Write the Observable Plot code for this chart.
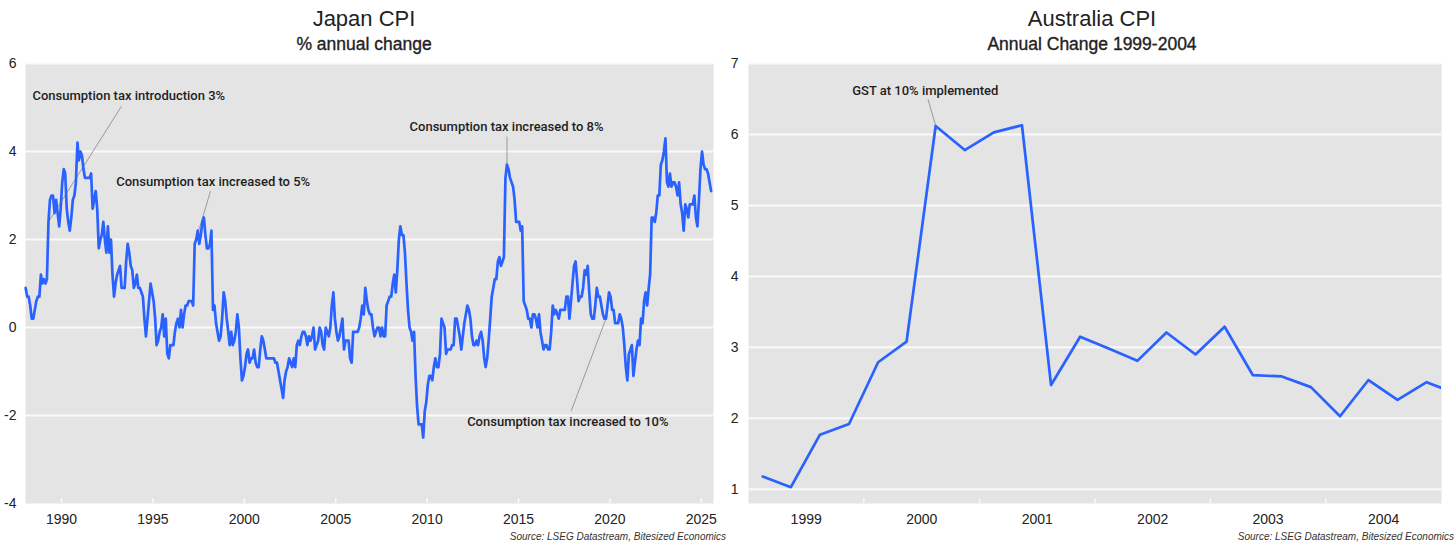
<!DOCTYPE html>
<html>
<head>
<meta charset="utf-8">
<script src="https://cdn.jsdelivr.net/npm/d3@7"></script>
<script src="https://cdn.jsdelivr.net/npm/@observablehq/plot@0.6"></script>
<style>
  html, body { margin: 0; padding: 0; background: #fff; }
  #wrap { position: relative; width: 1456px; height: 546px; overflow: hidden; font-family: "Liberation Sans", Arial, sans-serif; color: #222; }
  .title { position: absolute; width: 728px; text-align: center; font-size: 22px; line-height: 1; top: 8px; }
  .sub { position: absolute; width: 728px; text-align: center; font-size: 17.5px; line-height: 1; top: 36px; -webkit-text-stroke: 0.35px #222; }
  .src { position: absolute; font-size: 10px; line-height: 1; font-style: italic; color: #333; top: 532px; white-space: nowrap; }
  .chart { position: absolute; top: 55px; }
</style>
</head>
<body>
<div id="wrap">
  <div class="title" style="left:0">Japan CPI</div>
  <div class="sub" style="left:0">% annual change</div>
  <div class="title" style="left:728px">Australia CPI</div>
  <div class="sub" style="left:728px">Annual Change 1999-2004</div>
  <div id="left" class="chart" style="left:0"></div>
  <div id="right" class="chart" style="left:728px"></div>
  <div class="src" style="right:730px">Source: LSEG Datastream, Bitesized Economics</div>
  <div class="src" style="right:2px">Source: LSEG Datastream, Bitesized Economics</div>
</div>
<script>
// ---------------- Japan CPI, % annual change, monthly from Jan 1988 ----------------
const japanStartYear = 1988;
const japanCpi = [
  0.9, 0.7, 0.7, 0.5, 0.2, 0.2, 0.4, 0.6, 0.7, 0.7, 1.2, 1.0,      // 1988
  1.1, 1.0, 1.1, 2.4, 2.9, 3.0, 3.0, 2.6, 2.9, 2.6, 2.3, 2.7,      // 1989
  3.3, 3.6, 3.5, 2.7, 2.4, 2.2, 2.5, 2.9, 3.0, 3.3, 4.2, 3.8,      // 1990
  4.0, 3.9, 3.6, 3.4, 3.4, 3.4, 3.4, 3.5, 2.7, 2.9, 3.1, 2.7,      // 1991
  1.8, 2.0, 2.1, 2.4, 2.0, 1.7, 2.3, 1.7, 2.0, 1.2, 0.7, 1.0,      // 1992
  1.2, 1.3, 1.4, 0.9, 0.9, 0.9, 1.5, 1.9, 1.7, 1.4, 1.3, 0.9,      // 1993
  1.0, 1.2, 0.9, 0.9, 0.8, 0.7, 0.2, -0.2, 0.2, 0.6, 1.0, 0.8,     // 1994
  0.6, 0.2, -0.4, -0.3, -0.1, 0.0, 0.3, -0.2, 0.2, -0.6, -0.7, -0.4, // 1995
  -0.4, -0.4, -0.1, 0.1, 0.2, 0.0, 0.4, 0.0, 0.3, 0.5, 0.5, 0.6,   // 1996
  0.6, 0.6, 0.5, 1.9, 2.0, 2.2, 1.9, 2.1, 2.4, 2.5, 2.1, 1.8,      // 1997
  1.8, 1.9, 2.2, 0.4, 0.5, 0.1, -0.1, -0.3, -0.2, 0.2, 0.8, 0.6,   // 1998
  0.2, -0.1, -0.4, -0.1, -0.4, -0.3, -0.1, 0.3, 0.0, -0.7, -1.2, -1.1, // 1999
  -0.9, -0.6, -0.5, -0.8, -0.7, -0.7, -0.5, -0.8, -0.9, -0.9, -0.5, -0.2, // 2000
  -0.3, -0.5, -0.7, -0.7, -0.7, -0.7, -0.7, -0.7, -0.8, -0.8, -1.0, -1.2, // 2001
  -1.4, -1.6, -1.2, -1.0, -0.9, -0.7, -0.8, -0.9, -0.7, -0.9, -0.4, -0.3, // 2002
  -0.4, -0.2, -0.1, -0.1, -0.2, -0.4, -0.2, -0.3, -0.2, 0.0, -0.5, -0.4,  // 2003
  -0.3, 0.0, -0.1, -0.4, -0.5, 0.0, -0.1, -0.2, 0.0, 0.5, 0.8, 0.2,   // 2004
  -0.1, -0.3, -0.2, 0.0, 0.2, -0.5, -0.3, -0.3, -0.3, -0.7, -0.8, -0.1, // 2005
  -0.1, -0.1, -0.1, 0.0, 0.2, 0.5, 0.3, 0.9, 0.6, 0.4, 0.3, 0.3,   // 2006
  0.0, -0.2, -0.1, 0.0, 0.0, -0.2, 0.0, -0.2, -0.2, 0.5, 0.6, 0.7, // 2007
  0.7, 1.0, 1.2, 0.8, 1.3, 2.0, 2.3, 2.1, 2.1, 1.7, 1.0, 0.4,      // 2008
  0.0, -0.1, -0.3, -0.1, -1.1, -1.8, -2.2, -2.2, -2.2, -2.5, -1.9, -1.7, // 2009
  -1.3, -1.1, -1.1, -1.2, -0.9, -0.7, -0.9, -0.9, -0.6, 0.2, 0.1, 0.0,   // 2010
  -0.6, -0.5, -0.5, -0.5, -0.4, -0.4, 0.2, 0.2, 0.0, -0.2, -0.5, -0.2,  // 2011
  0.1, 0.3, 0.5, 0.4, 0.2, -0.2, -0.4, -0.4, -0.3, -0.4, -0.2, -0.1,   // 2012
  -0.3, -0.7, -0.9, -0.7, -0.3, 0.2, 0.7, 0.9, 1.1, 1.1, 1.5, 1.6,     // 2013
  1.4, 1.5, 1.6, 3.4, 3.7, 3.6, 3.4, 3.3, 3.2, 2.9, 2.4, 2.4,      // 2014
  2.4, 2.2, 2.3, 0.6, 0.5, 0.4, 0.2, 0.2, 0.0, 0.3, 0.3, 0.2,      // 2015
  0.0, 0.3, -0.1, -0.3, -0.5, -0.4, -0.4, -0.5, -0.5, -0.1, 0.5, 0.3, // 2016
  0.4, 0.3, 0.2, 0.4, 0.4, 0.4, 0.4, 0.7, 0.7, 0.2, 0.6, 1.0,      // 2017
  1.4, 1.5, 1.1, 0.6, 0.7, 0.7, 0.9, 1.3, 1.2, 1.4, 0.8, 0.3,      // 2018
  0.2, 0.2, 0.5, 0.9, 0.7, 0.7, 0.5, 0.3, 0.2, 0.2, 0.5, 0.8,      // 2019
  0.7, 0.4, 0.4, 0.1, 0.1, 0.1, 0.3, 0.2, 0.0, -0.4, -0.9, -1.2,   // 2020
  -0.6, -0.5, -0.4, -1.1, -0.8, -0.5, -0.3, -0.4, 0.2, 0.1, 0.6, 0.8, // 2021
  0.5, 0.9, 1.2, 2.5, 2.5, 2.4, 2.6, 3.0, 3.0, 3.7, 3.8, 4.0,      // 2022
  4.3, 3.3, 3.2, 3.5, 3.2, 3.3, 3.3, 3.2, 3.0, 3.3, 2.8, 2.6,      // 2023
  2.2, 2.8, 2.7, 2.5, 2.8, 2.8, 2.8, 3.0, 2.5, 2.3, 2.9, 3.6,      // 2024
  4.0, 3.7, 3.6, 3.6, 3.5, 3.3, 3.1                                // 2025
];
const japanYTicks = [-4, -2, 0, 2, 4, 6];
const japanGridValues = [-2, 0, 2, 4, 6];
const japanXTickYears = [1990, 1995, 2000, 2005, 2010, 2015, 2020, 2025];
const japanDomainYears = [1988.03, 2025.667];
const japanYDomain = [-4, 6];

const japanNoteText = ["Consumption tax introduction 3%", "Consumption tax increased to 5%", "Consumption tax increased to 8%", "Consumption tax increased to 10%"];
const japanNoteMonth = ["1989-04", "1997-04", "2014-05", "2019-10"];
const japanNoteLabelX = [1988.41, 1992.99, 2009.04, 2012.19];
const japanNoteLabelY = [5.26, 3.32, 4.55, -2.14];
const japanNoteLineX = [1993.28, 1998.15, 2014.37, 2017.88];
const japanNoteLineY = [5.03, 3.10, 4.34, -1.90];

// ---------------- Australia CPI, annual change, quarterly from 1999 Q1 ----------------
const ausQuarters = ["1999 Q1","1999 Q2","1999 Q3","1999 Q4","2000 Q1","2000 Q2","2000 Q3","2000 Q4",
  "2001 Q1","2001 Q2","2001 Q3","2001 Q4","2002 Q1","2002 Q2","2002 Q3","2002 Q4",
  "2003 Q1","2003 Q2","2003 Q3","2003 Q4","2004 Q1","2004 Q2","2004 Q3","2004 Q4","2005 Q1"];
const ausCpi = [1.18, 1.03, 1.77, 1.92, 2.79, 3.08, 6.12, 5.78, 6.03, 6.13, 2.47, 3.15,
  2.98, 2.81, 3.21, 2.90, 3.29, 2.61, 2.59, 2.44, 2.03, 2.54, 2.26, 2.51, 2.35];
const ausYTicks = [1, 2, 3, 4, 5, 6, 7];
const ausLabelYears = [1999, 2000, 2001, 2002, 2003, 2004];
const ausTickYears = [2000, 2001, 2002, 2003, 2004];
const ausDomainYears = [1999, 2005];
const ausYDomain = [0.8, 7];

const ausNoteText = ["GST at 10% implemented"];
const ausNoteQuarter = ["2000 Q3"];
const ausNoteLabelX = [2000.53];
const ausNoteLabelY = [6.62];
const ausNoteLineX = [2000.554];
const ausNoteLineY = [6.50];

// ---------------- helpers ----------------
const fy = t => { const y = Math.floor(t); const a = Date.UTC(y, 0, 1), b = Date.UTC(y + 1, 0, 1); return new Date(a + (t - y) * (b - a)); };
const monthDate = i => new Date(Date.UTC(japanStartYear, i, 15));
const quarterDate = q => { const [y, qq] = q.split(" Q").map(Number); return new Date(Date.UTC(y, (qq - 1) * 3 + 1, 15)); };

const BLUE = "#2962ff";
const PANEL = "#e4e4e4";
const FONT = "'Liberation Sans', Arial, sans-serif";
const NOTEFONT = "Roboto, 'Liberation Sans', sans-serif";

// ---------------- Japan chart ----------------
const japanData = japanCpi.map((v, i) => ({ date: monthDate(i), value: v }));
const japanNotes = japanNoteText.map((t, i) => {
  const [y, m] = japanNoteMonth[i].split("-").map(Number);
  const idx = (y - japanStartYear) * 12 + (m - 1);
  return { text: t, px: japanData[idx].date, py: japanData[idx].value,
           lx: fy(japanNoteLabelX[i]), ly: japanNoteLabelY[i],
           sx: fy(japanNoteLineX[i]), sy: japanNoteLineY[i] };
});
const jTickLen = (japanYDomain[1] - japanYDomain[0]) / 440 * 5;

const left = Plot.plot({
  width: 728, height: 475,
  marginLeft: 25, marginRight: 15, marginTop: 8, marginBottom: 27,
  style: { fontFamily: FONT, fontSize: "14px", color: "#222", background: "transparent", overflow: "visible" },
  x: { type: "utc", domain: japanDomainYears.map(fy) },
  y: { domain: japanYDomain },
  marks: [
    Plot.frame({ fill: PANEL, stroke: null }),
    Plot.ruleY(japanGridValues, { stroke: "#fafafa", strokeWidth: 2 }),
    Plot.ruleX(japanXTickYears.map(y => fy(y)), { y1: japanYDomain[0], y2: japanYDomain[0] + jTickLen, stroke: "#fafafa", strokeWidth: 1.5 }),
    Plot.axisY({ ticks: japanYTicks, tickSize: 0, tickPadding: 9, tickFormat: d => String(d), fontSize: 14 }),
    Plot.axisX({ ticks: japanXTickYears.map(y => fy(y)), tickSize: 0, tickPadding: 11, tickFormat: d => String(d.getUTCFullYear()), fontSize: 14 }),
    Plot.link(japanNotes, { x1: "sx", y1: "sy", x2: "px", y2: "py", stroke: "#9a9a9a", strokeWidth: 1 }),
    Plot.line(japanData, { x: "date", y: "value", stroke: BLUE, strokeWidth: 2.7, strokeLinejoin: "round" }),
    Plot.text(japanNotes, { x: "lx", y: "ly", text: "text", textAnchor: "start", fontSize: 13, fontWeight: 500, fontFamily: NOTEFONT, fill: "#1e1e1e" })
  ]
});
document.getElementById("left").appendChild(left);

// ---------------- Australia chart ----------------
const ausData = ausQuarters.map((q, i) => ({ date: quarterDate(q), value: ausCpi[i] }));
const ausNotes = ausNoteText.map((t, i) => {
  const idx = ausQuarters.indexOf(ausNoteQuarter[i]);
  return { text: t, px: ausData[idx].date, py: ausData[idx].value,
           lx: fy(ausNoteLabelX[i]), ly: ausNoteLabelY[i],
           sx: fy(ausNoteLineX[i]), sy: ausNoteLineY[i] };
});
const aTickLen = (ausYDomain[1] - ausYDomain[0]) / 440 * 4.5;

const right = Plot.plot({
  width: 728, height: 475,
  marginLeft: 20, marginRight: 15, marginTop: 8, marginBottom: 27,
  style: { fontFamily: FONT, fontSize: "14px", color: "#222", background: "transparent", overflow: "visible" },
  x: { type: "utc", domain: ausDomainYears.map(fy) },
  y: { domain: ausYDomain },
  marks: [
    Plot.frame({ fill: PANEL, stroke: null }),
    Plot.ruleY(ausYTicks, { stroke: "#fafafa", strokeWidth: 2 }),
    Plot.ruleX(ausTickYears.map(y => fy(y)), { y1: ausYDomain[0], y2: ausYDomain[0] + aTickLen, stroke: "#fafafa", strokeWidth: 1.5 }),
    Plot.axisY({ ticks: ausYTicks, tickSize: 0, tickPadding: 10, tickFormat: d => String(d), fontSize: 14 }),
    Plot.axisX({ ticks: ausLabelYears.map(y => fy(y + 0.5)), tickSize: 0, tickPadding: 11, tickFormat: d => String(d.getUTCFullYear()), fontSize: 14 }),
    Plot.link(ausNotes, { x1: "sx", y1: "sy", x2: "px", y2: "py", stroke: "#9a9a9a", strokeWidth: 1 }),
    Plot.line(ausData, { x: "date", y: "value", stroke: BLUE, strokeWidth: 2.7, strokeLinejoin: "round", clip: true }),
    Plot.text(ausNotes, { x: "lx", y: "ly", text: "text", textAnchor: "middle", fontSize: 13, fontWeight: 500, fontFamily: NOTEFONT, fill: "#1e1e1e" })
  ]
});
document.getElementById("right").appendChild(right);
</script>
</body>
</html>
